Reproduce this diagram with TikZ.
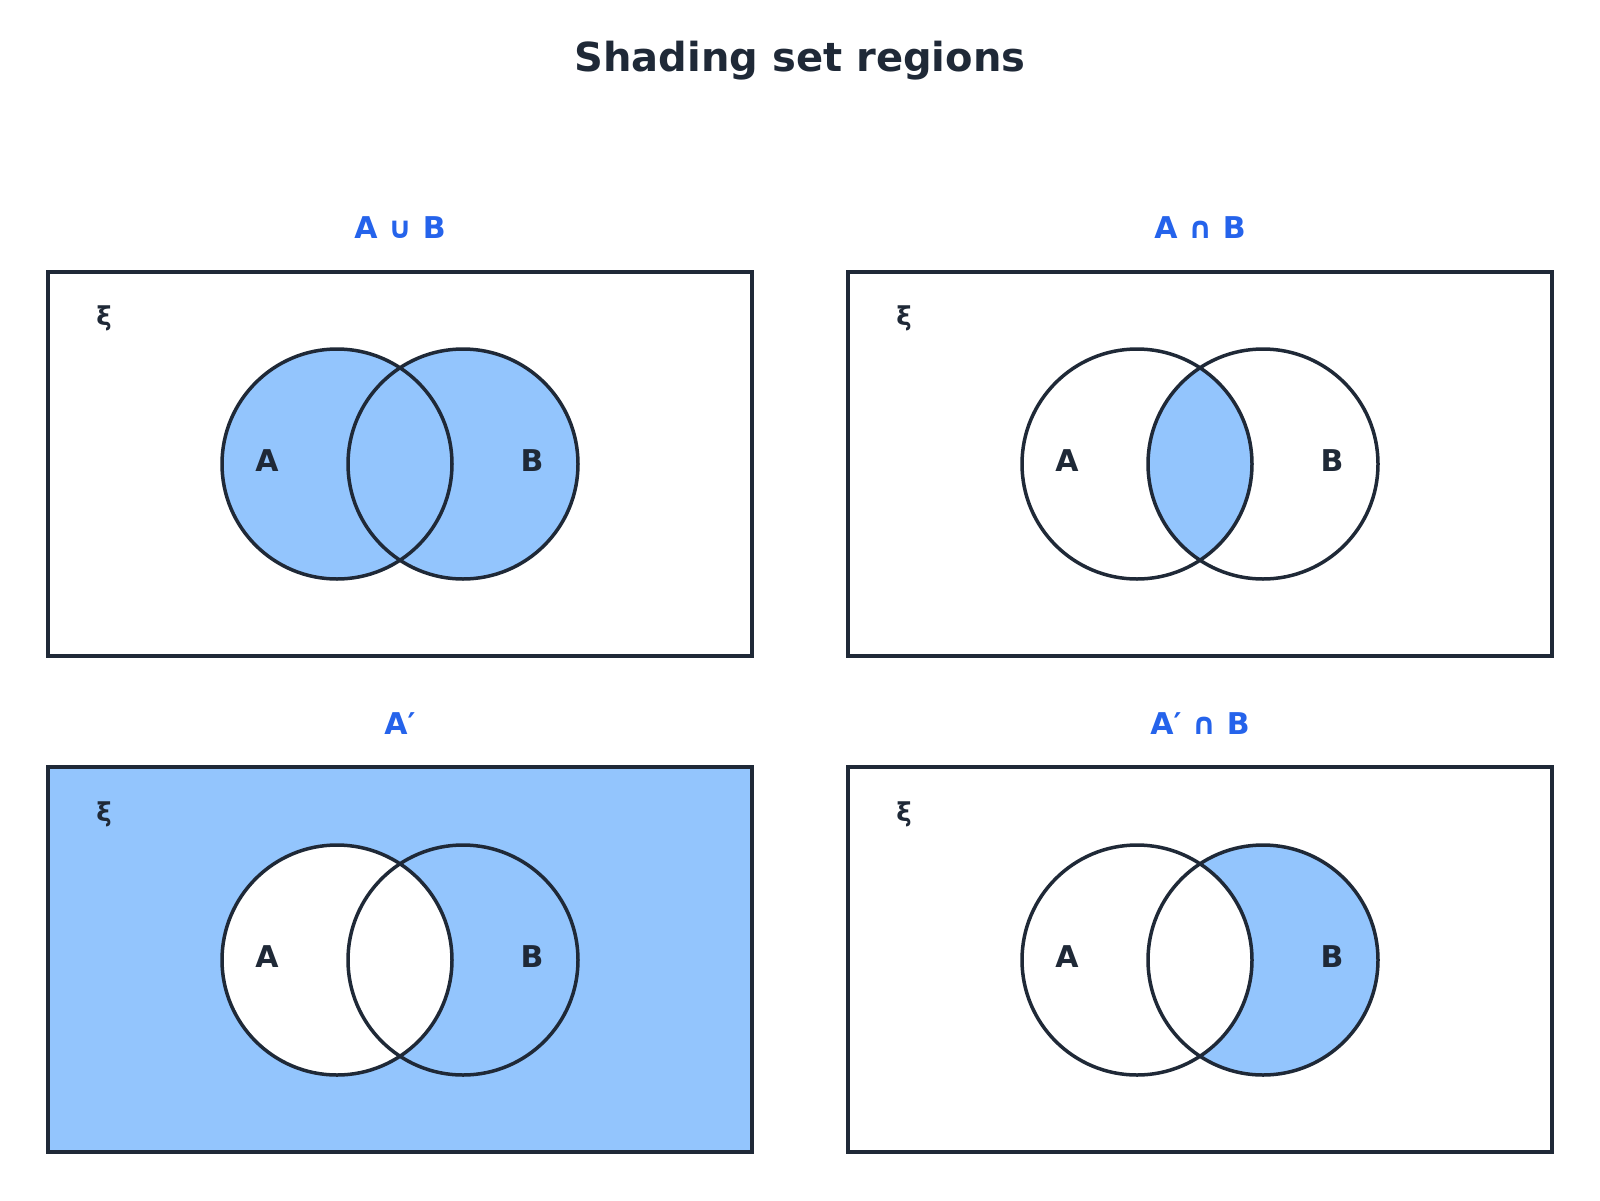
\documentclass[tikz,border=0pt]{standalone}
\usepackage{fontspec}
\setmainfont{DejaVu Sans}
\begin{document}
\definecolor{ink}{HTML}{1F2937}
\definecolor{hd}{HTML}{2563EB}
\definecolor{sh}{HTML}{93C5FD}
\begin{tikzpicture}[x=1pt,y=-1pt,
  frame/.style={draw=ink,line width=4pt},
  circ/.style={draw=ink,line width=3.5pt},
  head/.style={text=hd,font=\bfseries\fontsize{30}{34}\selectfont},
  lab/.style={text=ink,font=\bfseries\fontsize{30}{34}\selectfont},
  xi/.style={text=ink,font=\bfseries\fontsize{26}{30}\selectfont}]
\useasboundingbox (0,0) rectangle (1600,1200);
\node[text=ink,font=\bfseries\fontsize{40}{46}\selectfont] (title) at (800,61) {Shading set regions};
% panel 1 union
\fill[sh] (337,464) circle (115);
\fill[sh] (463,464) circle (115);
% panel 2 intersection
\begin{scope}
\clip (1137,464) circle (115);
\fill[sh] (1263,464) circle (115);
\end{scope}
% panel 3 complement
\fill[sh] (48,767) rectangle (752,1152);
\fill[white] (337,960) circle (115);
% panel 4
\fill[sh] (1263,960) circle (115);
\fill[white] (1137,960) circle (115);
% frames
\node[frame,minimum width=704pt,minimum height=384pt,inner sep=0pt] (f1) at (400,464) {};
\node[frame,minimum width=704pt,minimum height=384pt,inner sep=0pt] (f2) at (1200,464) {};
\node[frame,minimum width=704pt,minimum height=385pt,inner sep=0pt] (f3) at (400,959.5) {};
\node[frame,minimum width=704pt,minimum height=385pt,inner sep=0pt] (f4) at (1200,959.5) {};
% circles
\foreach \cx/\cy/\n in {337/464/a1,463/464/b1,1137/464/a2,1263/464/b2,337/960/a3,463/960/b3,1137/960/a4,1263/960/b4}
  \node[circ,circle,minimum size=230pt,inner sep=0pt] (\n) at (\cx,\cy) {};
% headings
\node[head] (h1) at (400,228) {A ∪ B};
\node[head] (h2) at (1200,228) {A ∩ B};
\node[head] (h3) at (400,724) {A′};
\node[head] (h4) at (1200,724) {A′ ∩ B};
% labels
\foreach \x/\y/\t/\n in {267/461/A/la1,532/461/B/lb1,1067/461/A/la2,1332/461/B/lb2,267/957/A/la3,532/957/B/lb3,1067/957/A/la4,1332/957/B/lb4}
  \node[lab] (\n) at (\x,\y) {\t};
\foreach \x/\y/\n in {104/318/x1,904/318/x2,104/814/x3,904/814/x4}
  \node[xi] (\n) at (\x,\y) {ξ};
\end{tikzpicture}
\end{document}
